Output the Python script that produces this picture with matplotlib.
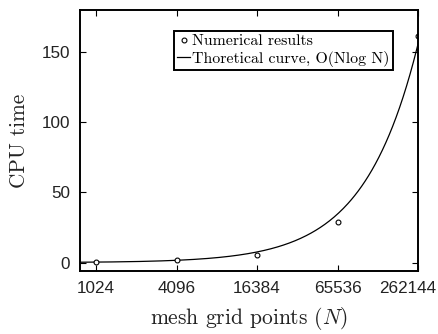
import matplotlib.pyplot as plt
import matplotlib.transforms as mtransforms
import numpy as np

# Data
grid_points = [1024, 4096, 16384, 65536, 262144]
cpu_time = [0.5, 1.6, 5.7, 29.0, 161.5]
tick_labels = ['1024', '4096', '16384', '65536', '262144']
coef = 3.3e-5  # fitted constant for c * N log2 N

plt.rcParams['mathtext.fontset'] = 'cm'
plt.rcParams['font.family'] = ['Liberation Sans', 'DejaVu Sans']

fig = plt.figure(figsize=(4.38, 3.34), dpi=100)
ax = fig.add_axes([80 / 438, 1 - 271 / 334, 338 / 438, 261 / 334])

n_curve = np.logspace(np.log10(700), np.log10(grid_points[-1]), 300)
ax.plot(n_curve, coef * n_curve * np.log2(n_curve), color='black', lw=0.9,
        label='Thoretical curve, O(Nlog N)')
ax.plot(grid_points, cpu_time, 'o', mfc='white', mec='black', ms=3.5, mew=0.8,
        label='Numerical results')

ax.set_xscale('log', base=2)
ax.set_xlim(2 ** 9.6, 2 ** 18)
ax.set_ylim(-6, 180)
ax.set_xticks(grid_points)
ax.set_xticklabels(tick_labels)
ax.minorticks_off()
ax.set_yticks([0, 50, 100, 150])
ax.tick_params(direction='in', top=True, right=True, length=4, width=0.8,
               labelsize=12.3, pad=7, labelcolor='#222222')
for s in ax.spines.values():
    s.set_linewidth(1.4)

# last tick label sits a little left so it stays inside the figure
last = ax.get_xticklabels()[-1]
last.set_transform(last.get_transform() + mtransforms.ScaledTranslation(-10 / 100, 0, fig.dpi_scale_trans))

ax.set_xlabel(r'mesh grid points ($N$)', fontfamily='cmr10', fontsize=15.5, labelpad=7, color='#222222')
ax.set_ylabel('CPU time', fontfamily='cmr10', fontsize=15.3, labelpad=9, color='#222222')

h, l = ax.get_legend_handles_labels()
leg = ax.legend(h[::-1], l[::-1], loc='upper right', bbox_to_anchor=(393 / 438, 1 - 31 / 334),
                bbox_transform=fig.transFigure, prop={'family': 'cmr10', 'size': 11.4},
                fancybox=False, edgecolor='black', framealpha=1, handlelength=0.8,
                handletextpad=0.15, borderpad=0.2, labelspacing=0.15, borderaxespad=0)
leg.get_frame().set_linewidth(1.4)

plt.savefig('out.png', dpi=100)
